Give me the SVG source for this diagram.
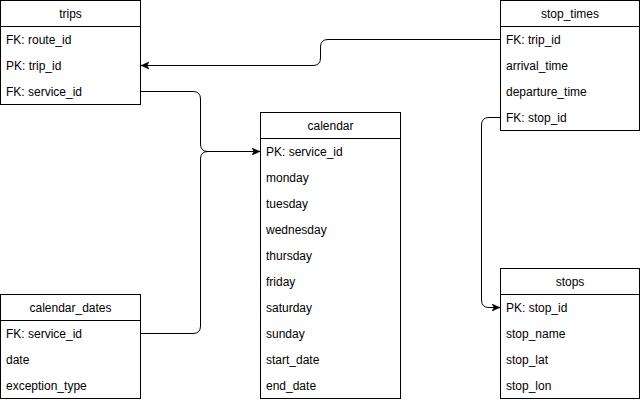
<svg xmlns="http://www.w3.org/2000/svg" width="641" height="402" viewBox="0 0 641 402">
<style>
.box{fill:#fff;stroke:#000;stroke-width:1}
.t{font-family:"Liberation Sans",Arial,sans-serif;font-size:12px;fill:#000}
.h{text-anchor:middle}
.c{fill:none;stroke:#000;stroke-width:1}
</style>
<defs>
<marker id="arr" markerUnits="userSpaceOnUse" markerWidth="10" markerHeight="10" refX="8" refY="4" orient="auto">
<path d="M0,0.5 L8,4 L0,7.5 L2,4 z" fill="#000" stroke="#000" stroke-width="0.5"/>
</marker>
</defs>
<rect width="641" height="402" fill="#fff"/>
<g id="connectors">
<path class="c" d="M500,39.5 H328 Q320.5,39.5 320.5,47 V58 Q320.5,65.5 313,65.5 H141" marker-end="url(#arr)"/>
<path class="c" d="M140,91.5 H193 Q200.5,91.5 200.5,99 V144 Q200.5,151.5 208,151.5 H260" marker-end="url(#arr)"/>
<path class="c" d="M140,333.5 H193 Q200.5,333.5 200.5,326 V159 Q200.5,151.5 208,151.5 H260"/>
<path class="c" d="M500,117.5 H489 Q481.5,117.5 481.5,125 V300 Q481.5,307.5 489,307.5 H500" marker-end="url(#arr)"/>
</g>
<g id="trips">
<rect class="box" x="0.5" y="0.5" width="140" height="104"/>
<line class="c" x1="0.5" y1="26.5" x2="140.5" y2="26.5"/>
<text class="t h" x="70.5" y="17.5">trips</text>
<text class="t" x="6" y="43.5">FK: route_id</text>
<text class="t" x="6" y="69.5">PK: trip_id</text>
<text class="t" x="6" y="95.5">FK: service_id</text>
</g>
<g id="stop_times">
<rect class="box" x="500.5" y="0.5" width="139" height="130"/>
<line class="c" x1="500.5" y1="26.5" x2="639.5" y2="26.5"/>
<text class="t h" x="570" y="17.5">stop_times</text>
<text class="t" x="506" y="43.5">FK: trip_id</text>
<text class="t" x="506" y="69.5">arrival_time</text>
<text class="t" x="506" y="95.5">departure_time</text>
<text class="t" x="506" y="121.5">FK: stop_id</text>
</g>
<g id="calendar">
<rect class="box" x="260.5" y="112.5" width="140" height="286"/>
<line class="c" x1="260.5" y1="138.5" x2="400.5" y2="138.5"/>
<text class="t h" x="330.5" y="129.5">calendar</text>
<text class="t" x="266" y="155.5">PK: service_id</text>
<text class="t" x="266" y="181.5">monday</text>
<text class="t" x="266" y="207.5">tuesday</text>
<text class="t" x="266" y="233.5">wednesday</text>
<text class="t" x="266" y="259.5">thursday</text>
<text class="t" x="266" y="285.5">friday</text>
<text class="t" x="266" y="311.5">saturday</text>
<text class="t" x="266" y="337.5">sunday</text>
<text class="t" x="266" y="363.5">start_date</text>
<text class="t" x="266" y="389.5">end_date</text>
</g>
<g id="calendar_dates">
<rect class="box" x="0.5" y="294.5" width="140" height="104"/>
<line class="c" x1="0.5" y1="320.5" x2="140.5" y2="320.5"/>
<text class="t h" x="70.5" y="311.5">calendar_dates</text>
<text class="t" x="6" y="337.5">FK: service_id</text>
<text class="t" x="6" y="363.5">date</text>
<text class="t" x="6" y="389.5">exception_type</text>
</g>
<g id="stops">
<rect class="box" x="500.5" y="268.5" width="139" height="130"/>
<line class="c" x1="500.5" y1="294.5" x2="639.5" y2="294.5"/>
<text class="t h" x="570" y="285.5">stops</text>
<text class="t" x="506" y="311.5">PK: stop_id</text>
<text class="t" x="506" y="337.5">stop_name</text>
<text class="t" x="506" y="363.5">stop_lat</text>
<text class="t" x="506" y="389.5">stop_lon</text>
</g>
</svg>
